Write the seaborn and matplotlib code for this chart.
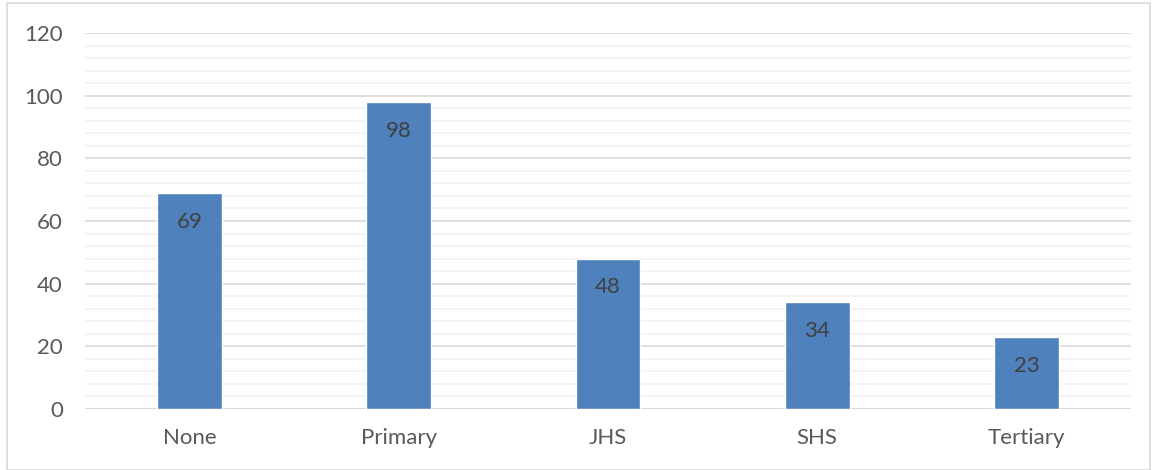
import matplotlib
matplotlib.use("Agg")
import matplotlib.pyplot as plt
import seaborn as sns
import pandas as pd
from matplotlib.patches import Rectangle
from matplotlib.ticker import MultipleLocator

categories = ["None", "Primary", "JHS", "SHS", "Tertiary"]
counts = [69, 98, 48, 34, 23]

df = pd.DataFrame({"level": categories, "count": counts})

sns.set_theme(style="white")
plt.rcParams["font.family"] = ["Lato", "DejaVu Sans"]

fig = plt.figure(figsize=(11.57, 4.70), dpi=100)
ax = fig.add_axes([85 / 1157, 1 - 409 / 470, (1131 - 85) / 1157, (409 - 33) / 470])

sns.barplot(data=df, x="level", y="count", color="#4f81bd", saturation=1,
            width=0.31, ax=ax, zorder=3)

ax.set_ylim(0, 120)
ax.set_xlim(-0.5, len(categories) - 0.5)
ax.yaxis.set_major_locator(MultipleLocator(20))
ax.yaxis.set_minor_locator(MultipleLocator(4))
ax.grid(axis="y", which="major", color="#d9d9d9", linewidth=1.2, zorder=0)
ax.grid(axis="y", which="minor", color="#f2f2f2", linewidth=1.2, zorder=0)
ax.set_axisbelow(True)
for s in ax.spines.values():
    s.set_visible(False)
ax.axhline(0, color="#d9d9d9", linewidth=1.2, zorder=1)
ax.set_xlabel("")
ax.set_ylabel("")
ax.tick_params(axis="both", which="both", length=0, labelsize=16, colors="#595959")
ax.tick_params(axis="y", pad=16)
ax.tick_params(axis="x", pad=14)

for container in ax.containers:
    ax.bar_label(container, labels=[str(v) for v in counts], padding=-28,
                 fontsize=16, color="#404040")

fig.patches.append(Rectangle((7 / 1157, 0), 1143 / 1157, 1 - 3 / 470,
                             transform=fig.transFigure, fill=False,
                             edgecolor="#d9d9d9", linewidth=1.2))

fig.savefig("out.png", dpi=100)
